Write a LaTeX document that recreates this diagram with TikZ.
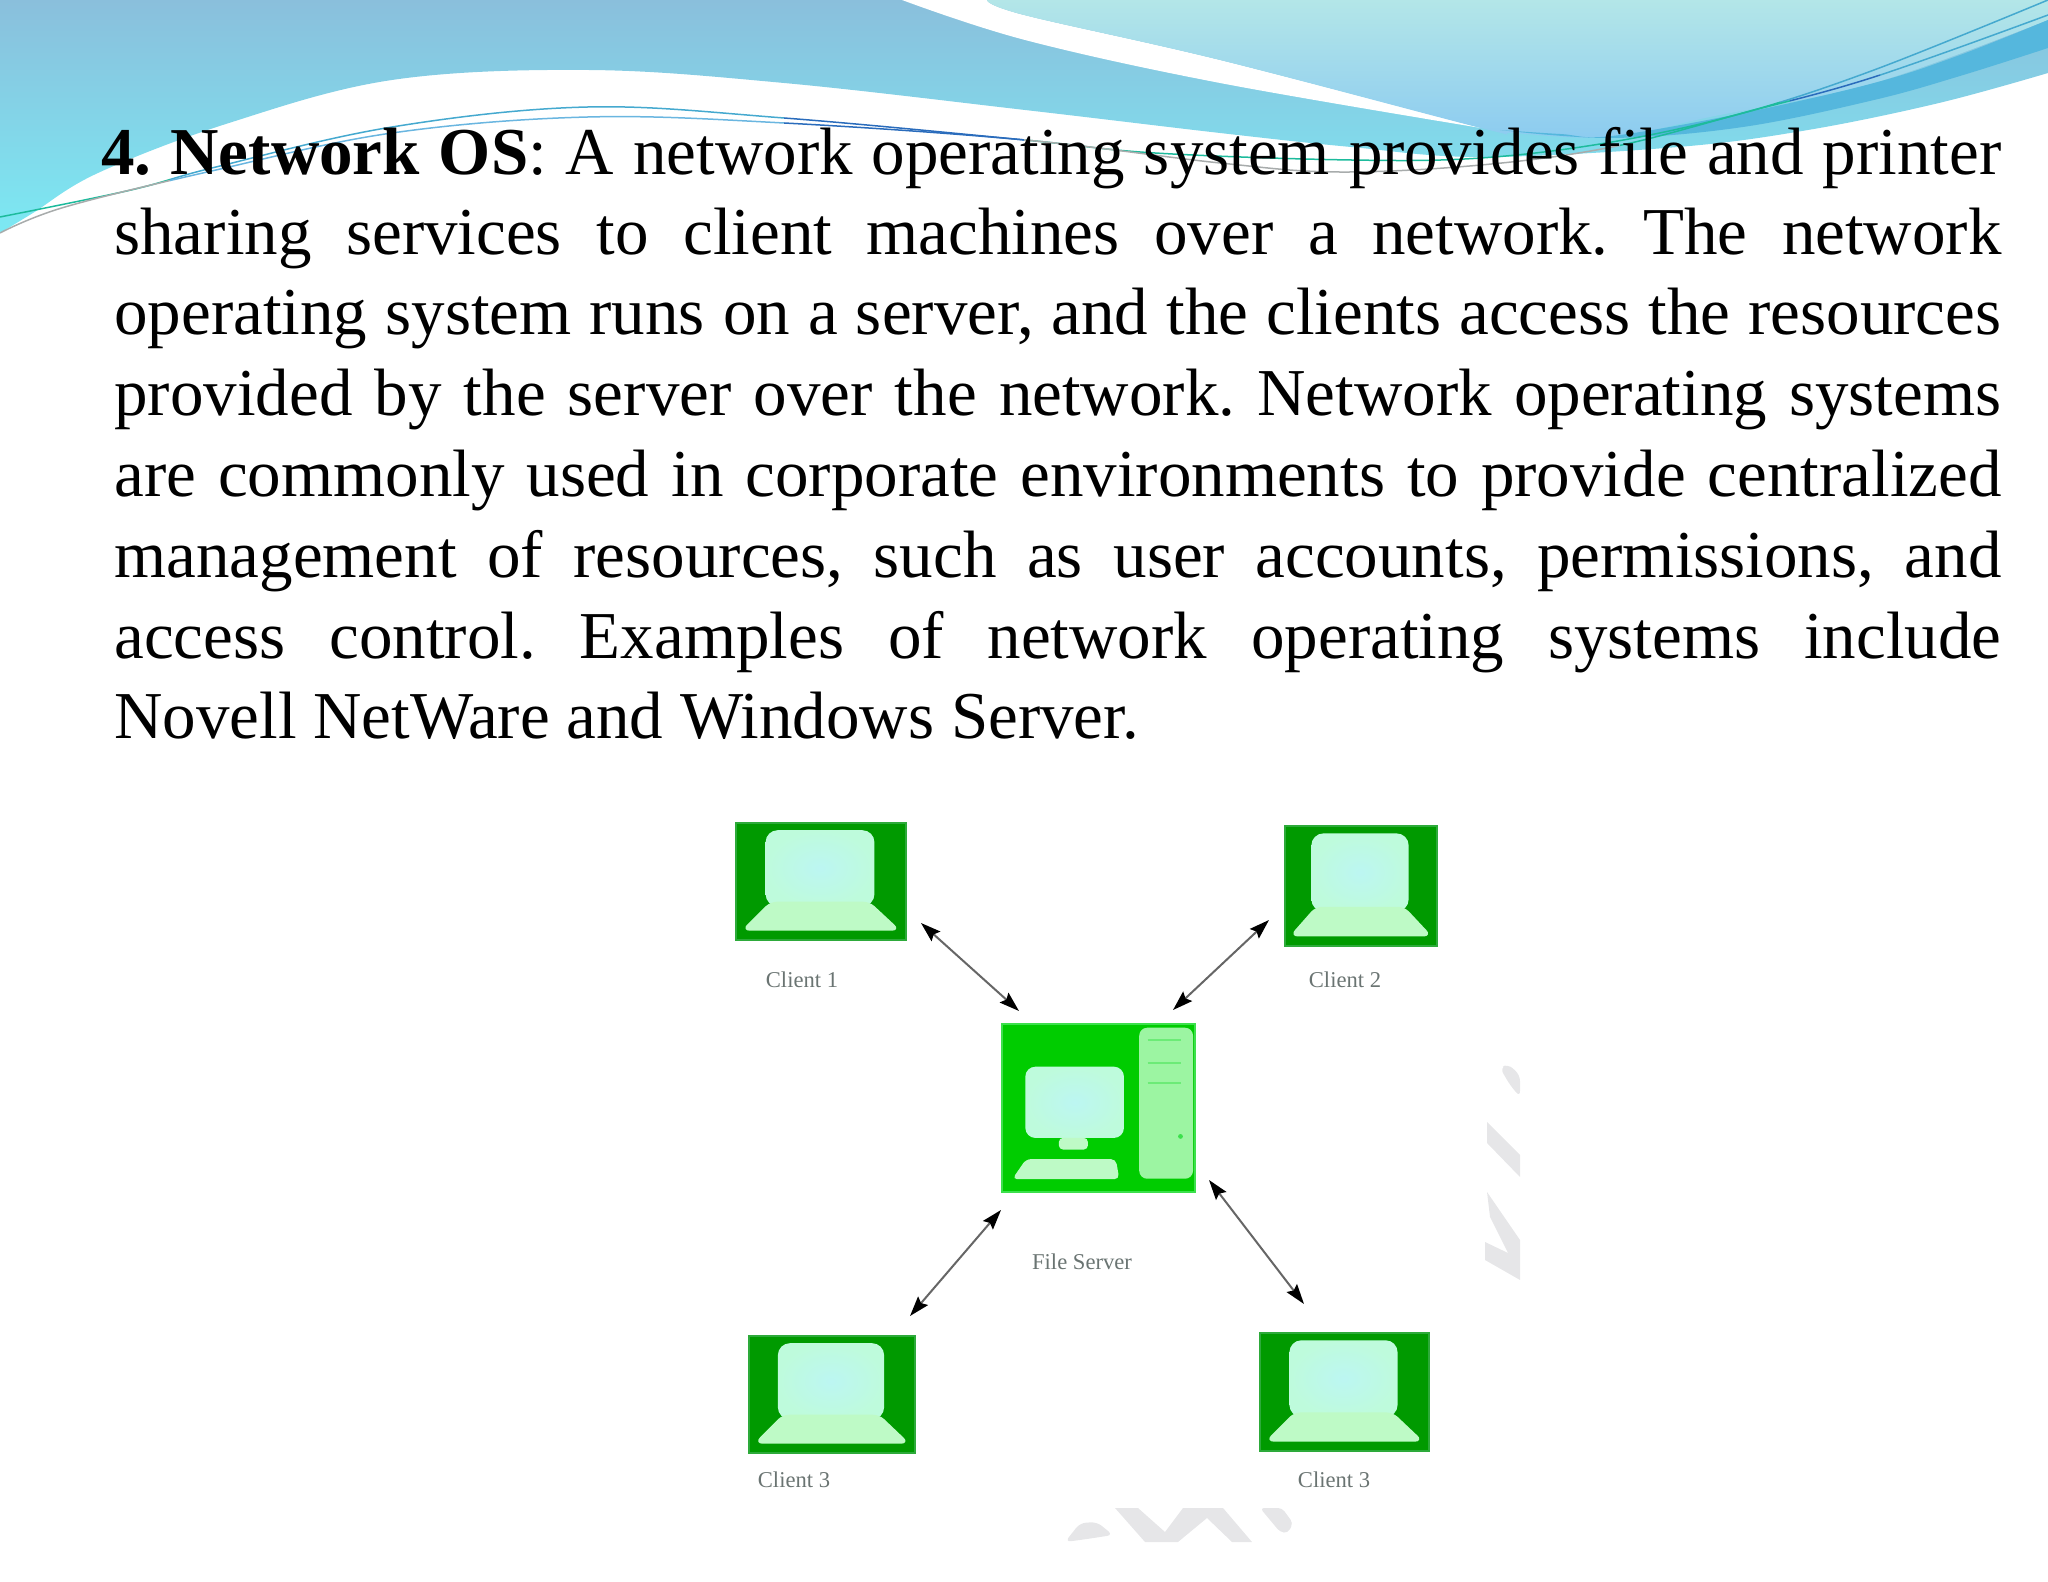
\documentclass[tikz,border=0pt]{standalone}
\usepackage{fontspec}
\setmainfont{Liberation Serif}
\usetikzlibrary{arrows.meta}
\definecolor{bgtop}{HTML}{8ABFDC}
\definecolor{bgbot}{HTML}{7CE9F3}
\definecolor{paletop}{HTML}{B3E6E8}
\definecolor{palebot}{HTML}{8CCBF0}
\definecolor{bandblue}{HTML}{55B7DD}
\definecolor{lapgreen}{HTML}{009A00}
\definecolor{lapedge}{HTML}{2DAA3A}
\definecolor{srvgreen}{HTML}{00CC00}
\definecolor{srvedge}{HTML}{3CE04C}
\definecolor{scrn}{HTML}{BCF6F2}
\definecolor{scrnedge}{HTML}{BEFBDC}
\definecolor{keyb}{HTML}{BEFAC6}
\definecolor{towr}{HTML}{9CF5A2}
\definecolor{wmark}{HTML}{E6E6E8}
\definecolor{labgray}{HTML}{6A7472}
\definecolor{arrgray}{HTML}{666666}
\definecolor{lteal}{HTML}{1DBB9C}
\definecolor{lblue}{HTML}{45A9CF}
\definecolor{ldeep}{HTML}{2A6CBC}
\definecolor{lgray}{HTML}{A8ACAC}
\definecolor{lsky}{HTML}{6AB6E0}
\tikzset{
  bodyline/.style={anchor=base west,inner sep=0pt,font=\fontsize{33.5}{40}\selectfont\frenchspacing},
  caption/.style={inner sep=0pt,text=labgray,font=\fontsize{11.3}{13}\selectfont},
  duplex/.style={{Stealth[length=10pt,width=6.5pt,inset=1.5pt,black]}-{Stealth[length=10pt,width=6.5pt,inset=1.5pt,black]},draw=arrgray,line width=1pt},
  lapbox/.style={anchor=north west,inner sep=0pt,fill=lapgreen,draw=lapedge,line width=1.2pt},
  srvbox/.style={anchor=north west,inner sep=0pt,fill=srvgreen,draw=srvedge,line width=1.2pt},
  thin curve/.style={line width=0.75pt}
}
\newcommand{\lapicon}[5]{%
  \node[lapbox,minimum width=#3*0.5pt,minimum height=#4*0.5pt] (#5) at (#1,#2) {};
  \begin{scope}[shift={(#1,#2)},x={(#3,0)},y={(0,#4)}]
    \shade[inner color=scrn,outer color=scrnedge,rounded corners=6pt] (.18,.07) rectangle (.82,.72);
    \fill[keyb,draw=keyb,line width=1pt,line join=round,rounded corners=3pt] (.21,.69) -- (.79,.69) -- (.96,.92) -- (.05,.92) -- cycle;
  \end{scope}}
\newcommand{\curveA}{(0,217) (131,190) (216,167) (392,127) (588,107) (784,118) (1025,140) (1155,153) (1351,160) (1481,158) (1612,142) (1743,113) (1874,70) (2048,0)}
\newcommand{\curveB}{(0,233) (65,207) (216,170) (392,133) (588,117) (784,123) (1025,140) (1220,163) (1338,172) (1481,165) (1612,147) (1743,113) (1874,77) (2048,15)}
\begin{document}
\begin{tikzpicture}[x=0.5pt,y=-0.5pt]
\useasboundingbox (0,0) rectangle (2048,1582);
% swooshes
\shade[top color=bgtop,bottom color=bgbot]
  (0,0) -- (0,233) -- plot[smooth,tension=.6] coordinates {(0,233) (33,213) (98,173) (229,123) (392,80) (588,70) (784,83) (1025,110) (1220,133) (1351,147) (1481,157) (1678,147) (1808,130) (1939,103) (2048,73)} -- (2048,0) -- cycle;
\fill[white] (902,0) -- plot[smooth,tension=.6] coordinates {(902,0) (1025,40) (1220,83) (1481,128)} -- plot[smooth,tension=.6] coordinates {(1481,128) (1220,60) (1024,15) (987,0)} -- cycle;
\shade[top color=paletop,bottom color=palebot]
  (987,0) -- plot[smooth,tension=.6] coordinates {(987,0) (1024,15) (1220,60) (1481,128) (1514,133) (1612,137) (1710,117) (1874,83) (2048,20)} -- (2048,0) -- cycle;
\fill[bandblue] plot[smooth,tension=.6] coordinates {(1500,130) (1560,134) (1612,136) (1743,113) (1874,83) (1960,55) (2048,20)} -- (2048,48) -- plot[smooth,tension=.6] coordinates {(2048,48) (1960,76) (1874,100) (1743,127) (1612,138) (1500,130)} -- cycle;
% thin curves
\foreach \xa/\xb/\cc in {0/170/lteal,170/784/lblue,784/1024/ldeep,1024/1780/lteal,1780/2048/lblue}{
  \begin{scope}
    \clip (\xa,-5) rectangle (\xb,300);
    \draw[thin curve,\cc] plot[smooth,tension=.6] coordinates {\curveA};
  \end{scope}}
\foreach \xa/\xb/\cc in {0/170/lgray,170/784/lsky,784/1024/ldeep,1024/1620/lgray,1620/1790/lteal,1790/1880/ldeep,1880/2048/lblue}{
  \begin{scope}
    \clip (\xa,-5) rectangle (\xb,300);
    \draw[thin curve,\cc] plot[smooth,tension=.6] coordinates {\curveB};
  \end{scope}}
% body text
\node[bodyline] (t1) at (101,175) {\makebox[950pt][s]{\textbf{4. Network OS}: A network operating system provides file and printer}};
\node[bodyline] (t2) at (114,255) {\makebox[943.5pt][s]{sharing services to client machines over a network. The network}};
\node[bodyline] (t3) at (114,335) {\makebox[943.5pt][s]{operating system runs on a server, and the clients access the resources}};
\node[bodyline] (t4) at (114,416) {\makebox[943.5pt][s]{provided by the server over the network. Network operating systems}};
\node[bodyline] (t5) at (114,497) {\makebox[943.5pt][s]{are commonly used in corporate environments to provide centralized}};
\node[bodyline] (t6) at (114,577) {\makebox[943.5pt][s]{management of resources, such as user accounts, permissions, and}};
\node[bodyline] (t7) at (114,658) {\makebox[943.5pt][s]{access control. Examples of network operating systems include}};
\node[bodyline] (t8) at (114,738) {Novell NetWare and Windows Server.};
% watermark fragments
\fill[wmark,rounded corners=3pt] (1500,1068) -- (1508,1064) -- (1520,1075) -- (1520,1097) -- (1510,1085) -- cycle;
\fill[wmark] (1487,1122) -- (1520,1155) -- (1520,1177) -- (1487,1143) -- cycle;
\fill[wmark] (1487,1192) -- (1520,1240) -- (1520,1280) -- (1485,1260) -- (1485,1242) -- (1508,1253) -- (1490,1217) -- cycle;
\fill[wmark,rounded corners=3pt] (1065,1542) -- (1080,1523) -- (1097,1522) -- (1113,1535) -- (1087,1539) -- cycle;
\fill[wmark] (1115,1508) -- (1138,1508) -- (1165,1532) -- (1183,1508) -- (1223,1508) -- (1252,1542) -- (1232,1542) -- (1207,1518) -- (1178,1542) -- (1145,1542) -- cycle;
\fill[wmark,rounded corners=2pt] (1260,1508) -- (1282,1508) -- (1293,1523) -- (1288,1533) -- (1280,1532) -- cycle;
% laptops
\lapicon{735}{822}{170}{117}{c1}
\lapicon{1284}{825}{152}{120}{c2}
\lapicon{748}{1335}{166}{117}{c3}
\lapicon{1259}{1332}{169}{118}{c4}
% server
\node[srvbox,minimum width=96.5pt,minimum height=84pt] (srv) at (1001,1023) {};
\begin{scope}[shift={(1001,1023)},x={(193,0)},y={(0,168)}]
  \fill[towr,rounded corners=4pt] (.716,.028) rectangle (.995,.927);
  \shade[inner color=scrn,outer color=scrnedge,rounded corners=5pt] (.126,.26) rectangle (.637,.684);
  \fill[keyb,rounded corners=2pt] (.30,.684) rectangle (.45,.753);
  \fill[keyb,rounded corners=2.5pt] (.13,.81) -- (.595,.81) -- (.613,.93) -- (.058,.93) -- cycle;
  \draw[srvedge!50!towr,line width=1pt] (.76,.10) -- (.93,.10) (.76,.24) -- (.93,.24) (.76,.36) -- (.93,.36);
  \fill[srvedge] (.93,.675) circle (1.2pt);
\end{scope}
% captions
\node[caption] (lc1) at (802,980) {Client 1};
\node[caption] (lc2) at (1345,980) {Client 2};
\node[caption] (lsv) at (1082,1262) {File Server};
\node[caption] (lc3) at (794,1480) {Client 3};
\node[caption] (lc4) at (1334,1480) {Client 3};
% connectors
\coordinate (a1) at (921,923); \coordinate (b1) at (1019,1011);
\coordinate (a2) at (1269,920); \coordinate (b2) at (1173,1010);
\coordinate (a3) at (910,1316); \coordinate (b3) at (1001,1210);
\coordinate (a4) at (1304,1304); \coordinate (b4) at (1209,1180);
\draw[duplex] (a1) -- (b1);
\draw[duplex] (a2) -- (b2);
\draw[duplex] (a3) -- (b3);
\draw[duplex] (a4) -- (b4);
\end{tikzpicture}
\end{document}
